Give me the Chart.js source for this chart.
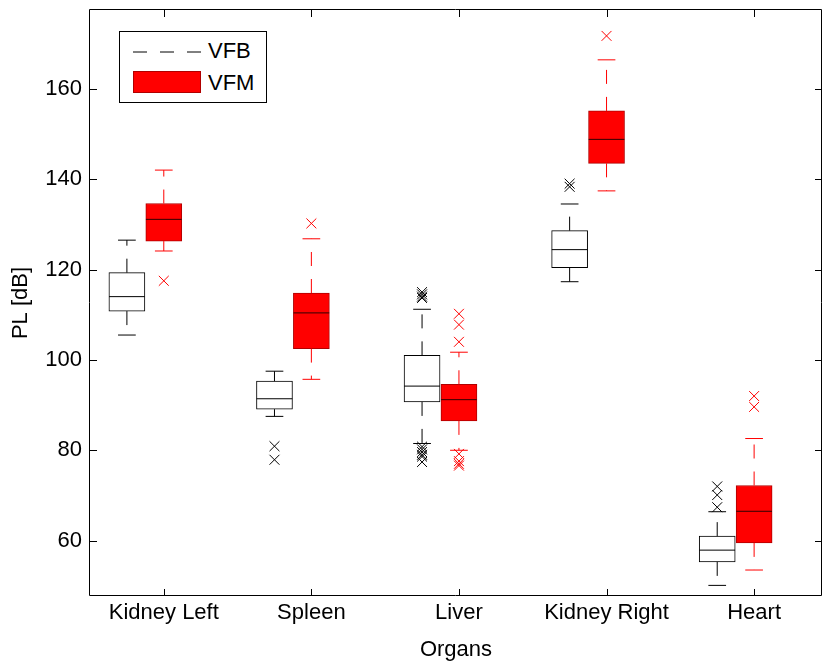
<!DOCTYPE html>
<html>
<head>
<meta charset="utf-8">
<script src="https://cdn.jsdelivr.net/npm/chart.js@4.4.0/dist/chart.umd.min.js"></script>
<style>
  html, body { margin: 0; padding: 0; background: #fff; overflow: hidden; }
  #wrap { position: relative; width: 830px; height: 667px; }
  #legend { position: absolute; left: 119px; top: 31px; width: 146px; height: 70px;
            border: 1px solid #000; background: #fff;
            font: 22px 'Liberation Sans', Arial, sans-serif; color: #000; }
  #legend .sym { position: absolute; left: 13px; width: 68px; }
  #legend .txt { position: absolute; left: 88px; line-height: 26px; }
</style>
</head>
<body>
<div id="wrap">
  <canvas id="boxChart"></canvas>
  <div id="legend">
    <svg class="sym" style="top:18px" width="68" height="4"><line x1="0" y1="2" x2="68" y2="2" stroke="#000" stroke-width="1" stroke-dasharray="14,13"/></svg>
    <div class="txt" style="top:6px">VFB</div>
    <div class="sym" style="top:39px;height:22px;background:#ff0000;border:1px solid #b00000;box-sizing:border-box"></div>
    <div class="txt" style="top:38px">VFM</div>
  </div>
</div>
<script>
const organs = ['Kidney Left', 'Spleen', 'Liver', 'Kidney Right', 'Heart'];
const yTicks = [60, 80, 100, 120, 140, 160];

// VFB
const vfbLow  = [105.5, 87.5, 81.5, 117.3, 50.1];
const vfbQ1   = [110.8, 89.1, 90.7, 120.4, 55.3];
const vfbMed  = [114.0, 91.4, 94.2, 124.4, 57.9];
const vfbQ3   = [119.3, 95.3, 101.0, 128.6, 61.0];
const vfbHigh = [126.5, 97.5, 111.2, 134.5, 66.4];
const vfbOut  = [[], [80.9, 77.9], [115.0, 114.5, 114.0, 113.7, 80.8, 80.2, 79.6, 79.0, 78.6, 77.4], [139.0, 138.3], [72.0, 70.1, 67.4]];

// VFM
const vfmLow  = [124.1, 95.7, 80.0, 137.4, 53.5];
const vfmQ1   = [126.3, 102.5, 86.5, 143.5, 59.5];
const vfmMed  = [131.1, 110.4, 91.2, 148.8, 66.5];
const vfmQ3   = [134.6, 114.8, 94.6, 155.1, 72.2];
const vfmHigh = [142.0, 126.8, 101.7, 166.4, 82.6];
const vfmOut  = [[117.5], [130.2], [110.2, 107.8, 104.0, 79.2, 77.6, 77.0, 76.6], [171.7], [92.0, 89.6]];

const boxHalf = 0.121;  // half box width in x units
const capHalf = 0.06;

function boxSets(pos, low, q1, med, q3, high, out, line, fill, edge, medColor) {
  const bars = [], whisk = [], caps = [], meds = [], pts = [];
  pos.forEach((x, i) => {
    bars.push({x: x, y: [q1[i], q3[i]]});
    whisk.push({x: x, y: q3[i]}, {x: x, y: high[i]}, {x: x, y: null},
               {x: x, y: q1[i]}, {x: x, y: low[i]}, {x: x, y: null});
    caps.push({x: x - capHalf, y: high[i]}, {x: x + capHalf, y: high[i]}, {x: x, y: null},
              {x: x - capHalf, y: low[i]}, {x: x + capHalf, y: low[i]}, {x: x, y: null});
    meds.push({x: x - boxHalf, y: med[i]}, {x: x + boxHalf, y: med[i]}, {x: x, y: null});
    out[i].forEach(v => pts.push({x: x, y: v}));
  });
  const lineBase = {type: 'line', pointRadius: 0, borderWidth: 1, fill: false, spanGaps: false, order: 1};
  return [
    {type: 'bar', data: bars, backgroundColor: fill, borderColor: edge, borderWidth: 1,
     borderSkipped: false, grouped: false, barThickness: 36, maxBarThickness: 36, order: 10},
    Object.assign({data: whisk, borderColor: line, borderDash: [14, 13]}, lineBase),
    Object.assign({data: caps, borderColor: line}, lineBase),
    Object.assign({data: meds, borderColor: medColor}, lineBase),
    {type: 'scatter', data: pts, pointStyle: 'crossRot', pointRadius: 7, borderColor: line,
     backgroundColor: line, borderWidth: 1, showLine: false, order: 1}
  ];
}

const vfbPos = organs.map((o, i) => i + 1 - 0.25);
const vfmPos = organs.map((o, i) => i + 1);

const datasets = [].concat(
  boxSets(vfbPos, vfbLow, vfbQ1, vfbMed, vfbQ3, vfbHigh, vfbOut, '#000', '#fff', '#000', '#000'),
  boxSets(vfmPos, vfmLow, vfmQ1, vfmMed, vfmQ3, vfmHigh, vfmOut, '#ff0000', '#ff0000', '#b00000', '#300000')
);

const frame = {
  id: 'frame',
  afterDatasetsDraw(chart) {
    const {ctx, chartArea: a, scales: {x, y}} = chart;
    ctx.save();
    ctx.strokeStyle = '#000';
    ctx.lineWidth = 1;
    ctx.beginPath();
    ctx.rect(Math.round(a.left) - 0.5, Math.round(a.top) - 0.5, a.right - a.left, a.bottom - a.top);
    x.ticks.forEach(t => {
      const px = Math.round(x.getPixelForValue(t.value)) + 0.5;
      ctx.moveTo(px, a.bottom); ctx.lineTo(px, a.bottom - 7);
      ctx.moveTo(px, a.top); ctx.lineTo(px, a.top + 7);
    });
    y.ticks.forEach(t => {
      const py = Math.round(y.getPixelForValue(t.value)) + 0.5;
      ctx.moveTo(a.left, py); ctx.lineTo(a.left + 7, py);
      ctx.moveTo(a.right, py); ctx.lineTo(a.right - 7, py);
    });
    ctx.stroke();
    ctx.restore();
  }
};

Chart.defaults.font.family = "'Liberation Sans', Arial, sans-serif";
Chart.defaults.font.size = 22;
Chart.defaults.color = '#000';

new Chart(document.getElementById('boxChart'), {
  type: 'bar',
  data: {datasets: datasets},
  options: {
    responsive: true,
    maintainAspectRatio: false,
    animation: false,
    layout: {padding: {top: 10, right: 2, left: 0, bottom: 0}},
    plugins: {legend: {display: false}, tooltip: {enabled: false}},
    scales: {
      x: {
        type: 'linear', min: 0.5, max: 5.46, offset: false,
        grid: {display: false, drawTicks: false}, border: {display: false},
        afterBuildTicks: s => { s.ticks = organs.map((o, i) => ({value: i + 1})); },
        afterFit: s => { s.height = 71; s.paddingLeft = 0; s.paddingRight = 0; },
        ticks: {padding: 4, maxRotation: 0, autoSkip: false, callback: v => organs[v - 1]},
        title: {display: true, text: 'Organs', padding: {top: 0, bottom: 4}}
      },
      y: {
        type: 'linear', min: 47.75, max: 177.43,
        grid: {display: false, drawTicks: false}, border: {display: false},
        afterBuildTicks: s => { s.ticks = yTicks.map(v => ({value: v})); },
        afterFit: s => { s.width = 90; s.paddingTop = 0; s.paddingBottom = 0; },
        ticks: {padding: 8},
        title: {display: true, text: 'PL [dB]', padding: {top: 8, bottom: 0}}
      }
    }
  },
  plugins: [frame]
});
</script>
</body>
</html>
